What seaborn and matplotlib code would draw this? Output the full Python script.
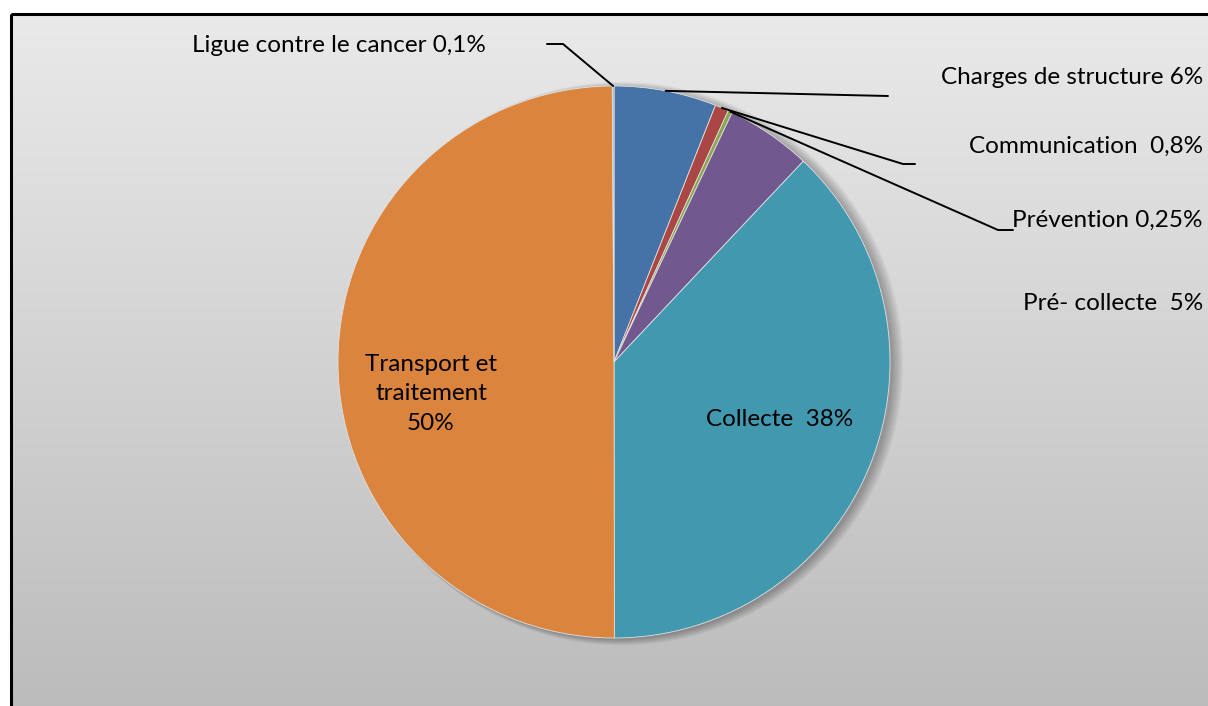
#Importing Libraries
import numpy as np
import matplotlib.pyplot as plt
import seaborn as sns
from matplotlib.patches import Rectangle, Circle

#Data
categories = ["Charges de structure", "Communication", "Prévention", "Pré- collecte",
              "Collecte", "Transport et traitement", "Ligue contre le cancer"]
values = [6, 0.8, 0.25, 5, 38, 50, 0.1]
labels = ["Charges de structure 6%", "Communication  0,8%", "Prévention 0,25%",
          "Pré- collecte  5%", "Collecte  38%", "Transport et\ntraitement\n50%",
          "Ligue contre le cancer 0,1%"]
colors = ["#4572A7", "#AA4643", "#89A54E", "#71588F", "#4198AF", "#DB843D", "#93A9CF"]

#Style
sns.set_style("white")
plt.rcParams['font.family'] = ['Lato', 'DejaVu Sans']
plt.rcParams['text.color'] = 'black'
palette = sns.color_palette(colors)

W, H = 1208, 706
fig = plt.figure(figsize=(W / 100, H / 100), dpi=100)

#Background with gradient and border (pixel coords)
bg = fig.add_axes([0, 0, 1, 1])
bg.set_xlim(0, W)
bg.set_ylim(H, 0)
bg.axis("off")
fig.patch.set_facecolor("white")
grad = np.linspace(0.915, 0.735, 256).reshape(-1, 1)
bg.imshow(np.dstack([grad, grad, grad]), extent=[11, W + 5, H + 5, 14], aspect="auto", zorder=0)
bg.add_patch(Rectangle((11, 14), W, H, fill=False, ec="black", lw=2.2, zorder=1))

#Pie
cx, cy, r = 614, 362, 276
ax = fig.add_axes([(cx - r) / W, (H - cy - r) / H, 2 * r / W, 2 * r / H])
ax.set_zorder(2)
for k in range(6):
    ax.add_patch(Circle((0.012 + 0.003 * k, -0.006), 1.0 + 0.004 * k, color="black",
                        alpha=0.05, lw=0, zorder=0, clip_on=False))
wedges, _ = ax.pie(values, colors=palette, startangle=90, counterclock=False, radius=1,
                   wedgeprops=dict(lw=0.6, ec="#e0e0e0"))
ax.set_xlim(-1, 1)
ax.set_ylim(-1, 1)
ax.set_aspect("equal")
ax.axis("off")

def anchor(i):
    w = wedges[i]
    t = np.deg2rad((w.theta1 + w.theta2) / 2)
    return np.cos(t), np.sin(t)

ov = fig.add_axes([0, 0, 1, 1])
ov.set_xlim(0, W)
ov.set_ylim(H, 0)
ov.axis("off")
ov.set_zorder(3)

def pix(i):
    a = anchor(i)
    return cx + a[0] * r, cy - a[1] * r

#Leader lines
leaders = {0: [(888, 96)], 1: [(903, 164), (915, 164)], 2: [(998, 230), (1013, 230)],
           6: [(563, 44), (547, 44)]}
for i, pts in leaders.items():
    x0, y0 = pix(i)
    xs = [x0] + [p[0] for p in pts]
    ys = [y0] + [p[1] for p in pts]
    ov.plot(xs, ys, color="black", lw=1.4)

#Labels
fs = 17.5
ov.text(1203, 77, labels[0], ha="right", va="center", fontsize=fs)
ov.text(1203, 146, labels[1], ha="right", va="center", fontsize=fs)
ov.text(1203, 220, labels[2], ha="right", va="center", fontsize=fs)
ov.text(1203, 304, labels[3], ha="right", va="center", fontsize=fs)
ov.text(780, 420, labels[4], ha="center", va="center", fontsize=fs)
ov.text(431, 394, labels[5], ha="center", va="center", fontsize=fs, linespacing=1.5)
ov.text(192, 45, labels[6], ha="left", va="center", fontsize=fs)

plt.savefig("out.png", dpi=100)
